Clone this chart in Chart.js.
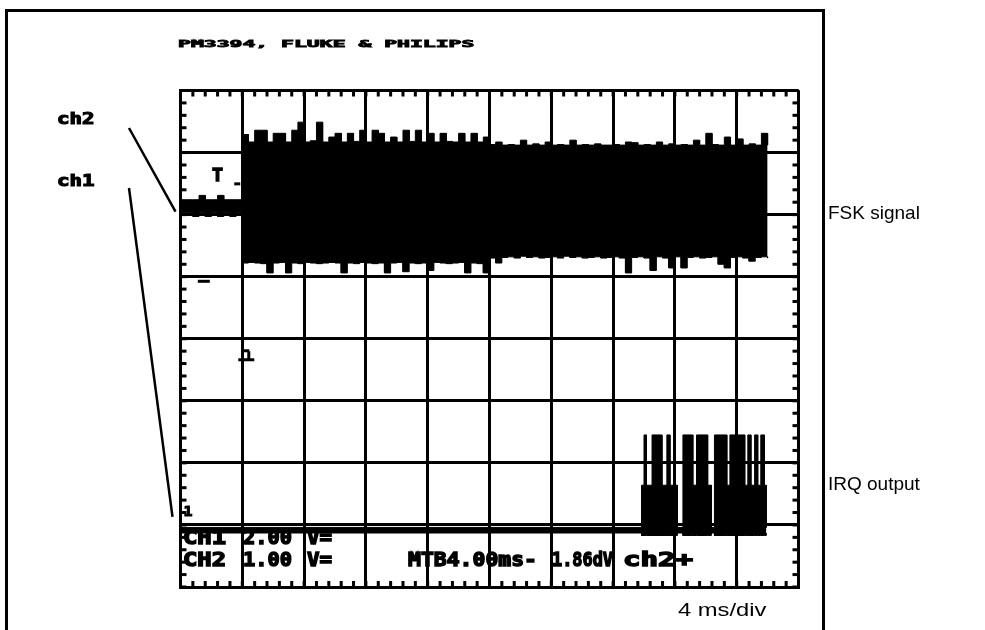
<!DOCTYPE html>
<html>
<head>
<meta charset="utf-8">
<script src="https://cdn.jsdelivr.net/npm/chart.js@4.4.1/dist/chart.umd.min.js"></script>
<style>
	body { margin: 0; background: #ffffff; }
	canvas { display: block; }
</style>
</head>
<body>
<canvas id="scope-canvas" width="985" height="630"></canvas>
<script>
// screen is 10 x 8 divisions, 4 ms/div
const divisionsX = 10;
const divisionsY = 8;

// ch2 (FSK) envelope, one sample every 0.1 div starting at 0
const sampleStep = 0.1;
const ch2Top = [
	6.24, 6.24, 6.24, 6.31, 6.24, 6.24, 6.31, 6.24, 6.24, 6.24,
	7.29, 7.17, 7.36, 7.36, 7.17, 7.31, 7.31, 7.17, 7.36, 7.49,
	7.17, 7.19, 7.49, 7.17, 7.25, 7.31, 7.17, 7.31, 7.18, 7.36,
	7.17, 7.36, 7.31, 7.17, 7.25, 7.17, 7.36, 7.18, 7.36, 7.17,
	7.31, 7.17, 7.31, 7.18, 7.17, 7.31, 7.17, 7.31, 7.17, 7.25,
	7.13, 7.17, 7.12, 7.13, 7.12, 7.20, 7.12, 7.14, 7.12, 7.17,
	7.12, 7.13, 7.12, 7.20, 7.12, 7.13, 7.12, 7.14, 7.12, 7.12,
	7.13, 7.12, 7.17, 7.16, 7.12, 7.13, 7.12, 7.17, 7.12, 7.14,
	7.12, 7.13, 7.12, 7.20, 7.12, 7.31, 7.13, 7.12, 7.25, 7.12,
	7.22, 7.12, 7.14, 7.12, 7.31, 7.12
];
const ch2Bottom = [
	6.03, 6.03, 5.97, 6.03, 5.97, 6.03, 5.97, 6.03, 5.97, 6.03,
	5.22, 5.23, 5.22, 5.21, 5.06, 5.22, 5.23, 5.06, 5.22, 5.21,
	5.23, 5.22, 5.21, 5.22, 5.23, 5.22, 5.06, 5.22, 5.21, 5.23,
	5.22, 5.21, 5.22, 5.06, 5.22, 5.23, 5.08, 5.22, 5.21, 5.22,
	5.10, 5.23, 5.22, 5.21, 5.22, 5.23, 5.06, 5.22, 5.21, 5.06,
	5.30, 5.22, 5.31, 5.32, 5.30, 5.33, 5.31, 5.32, 5.30, 5.31,
	5.32, 5.30, 5.33, 5.31, 5.32, 5.30, 5.31, 5.32, 5.30, 5.31,
	5.32, 5.30, 5.06, 5.31, 5.32, 5.30, 5.10, 5.32, 5.30, 5.14,
	5.32, 5.14, 5.31, 5.32, 5.30, 5.31, 5.32, 5.20, 5.14, 5.31,
	5.32, 5.30, 5.25, 5.31, 5.32, 5.30
];

// ch1 (IRQ output) level changes, x in div
const irqX =      [0,    7.46, 7.50, 7.54, 7.63, 7.79, 7.87, 7.92, 8.04, 8.13, 8.29, 8.35, 8.53, 8.59, 8.64, 8.84, 8.89, 9.13, 9.18, 9.23, 9.29, 9.34, 9.39, 9.45, 9.48];
const irqTop =    [0.96, 1.64, 2.45, 1.64, 2.45, 1.64, 2.45, 1.64, 0.96, 2.45, 1.64, 2.45, 1.64, 0.96, 2.45, 1.64, 2.45, 1.64, 2.45, 1.64, 2.45, 1.64, 2.45, 1.64, 0.96];
const irqBottom = [0.87, 0.83, 0.83, 0.83, 0.83, 0.83, 0.83, 0.83, 0.87, 0.83, 0.83, 0.83, 0.83, 0.87, 0.83, 0.83, 0.83, 0.83, 0.83, 0.83, 0.83, 0.83, 0.83, 0.83, 0.87];

// readout lines of the scope
const titleText = "PM3394, FLUKE & PHILIPS";
const ch1Readout = ["CH1", "2.00", "V="];
const ch2Readout = ["CH2", "1.00", "V=", "MTB4.00ms-", "1.86dV", "ch2+"];
const readoutCols = [183, 243, 307, 408, 552, 623];
const readoutWidths = [43, 49, 25, 129, 61, 70];

const sideLabels = ["FSK signal", "IRQ output"];
const timebaseLabel = "4 ms/div";

// each level holds until the next sample: emit the corner points so
// the line and the fill between two traces follow the same steps
function stepPoints(xs, ys)
{
	let points = [];
	for(let i = 0; i < ys.length; i++)
	{
		points.push({x : xs[i], y : ys[i]});
		if(i + 1 < ys.length)
			points.push({x : xs[i + 1], y : ys[i]});
	}
	return points;
}

let ch2X = [];
for(let i = 0; i < ch2Top.length; i++)
	ch2X.push(Math.round(i * sampleStep * 100) / 100);

// wide blocky glyphs like the scope's own character generator
function scopeText(ctx, str, x, top, capH, pitch, width)
{
	const size = capH / 0.73;
	ctx.save();
	ctx.font = "bold " + size + "px 'DejaVu Sans Mono'";
	let sx = pitch / (0.602 * size);
	if(width)
		sx = width / ctx.measureText(str).width;
	ctx.textBaseline = "alphabetic";
	ctx.textAlign = "left";
	ctx.fillStyle = "#000";
	ctx.strokeStyle = "#000";
	ctx.translate(x, top + capH);
	ctx.scale(sx, 1);
	ctx.lineWidth = Math.max(0.8, capH / 10);
	ctx.fillText(str, 0, 0);
	ctx.strokeText(str, 0, 0);
	ctx.restore();
}

const scopeDecor =
{
	id : "scopeDecor",
	beforeDraw(chart)
	{
		const ctx = chart.ctx;
		ctx.save();
		ctx.fillStyle = "#fff";
		ctx.fillRect(0, 0, chart.width, chart.height);
		// outer frame (open at the bottom)
		ctx.fillStyle = "#000";
		ctx.fillRect(5, 9, 3, 630);
		ctx.fillRect(5, 9, 820, 3);
		ctx.fillRect(822, 9, 3, 630);
		ctx.restore();
	},
	beforeDatasetsDraw(chart)
	{
		const ctx = chart.ctx;
		// ch1 readout, partly overwritten by the ch1 trace
		for(let i = 0; i < ch1Readout.length; i++)
			scopeText(ctx, ch1Readout[i], readoutCols[i], 530, 14, 13, readoutWidths[i]);
	},
	afterDraw(chart)
	{
		const ctx = chart.ctx;
		const area = chart.chartArea;
		const xs = chart.scales.x;
		const ys = chart.scales.y;
		ctx.save();
		ctx.fillStyle = "#000";

		// minor ticks on the border, 5 per division
		for(let i = 0; i <= divisionsX * 5; i++)
		{
			const px = xs.getPixelForValue(i / 5);
			ctx.fillRect(px - 1.5, area.top, 3, 6);
			ctx.fillRect(px - 1.5, area.bottom - 6, 3, 6);
		}
		for(let i = 0; i <= divisionsY * 5; i++)
		{
			const py = ys.getPixelForValue(i / 5);
			ctx.fillRect(area.left, py - 1.5, 6, 3);
			ctx.fillRect(area.right - 6, py - 1.5, 6, 3);
		}

		// trigger level "T" and its marker
		scopeText(ctx, "T", xs.getPixelForValue(0.51), ys.getPixelForValue(6.75), 13, 11);
		ctx.fillRect(xs.getPixelForValue(0.87), ys.getPixelForValue(6.52), 6, 3);
		// ch1 position marker
		ctx.fillRect(xs.getPixelForValue(0.28), ys.getPixelForValue(4.95), 12, 3);
		// trigger point marker
		const tx = xs.getPixelForValue(1.0);
		const ty = ys.getPixelForValue(3.75);
		ctx.fillRect(tx - 4, ty + 4, 16, 3);
		ctx.fillRect(tx + 5, ty - 3, 3, 8);
		ctx.fillRect(tx + 1, ty - 5, 6, 3);
		// ch1 ground marker
		scopeText(ctx, "1", area.left + 3, ys.getPixelForValue(1.3), 10, 9);

		// readout below the traces
		for(let i = 0; i < ch2Readout.length; i++)
			scopeText(ctx, ch2Readout[i], readoutCols[i], 552, 14, 13, readoutWidths[i]);

		// header
		scopeText(ctx, titleText, 178, 40, 7, 12.9);

		// channel names and their leader lines
		scopeText(ctx, "ch2", 57, 113, 11, 12.5);
		scopeText(ctx, "ch1", 57, 175, 11, 12.5);
		ctx.strokeStyle = "#000";
		ctx.lineWidth = 2.5;
		ctx.beginPath();
		ctx.moveTo(129, 128);
		ctx.lineTo(area.left - 5, ys.getPixelForValue(6.0) - 3);
		ctx.moveTo(129, 188);
		ctx.lineTo(area.left - 8, ys.getPixelForValue(1.13));
		ctx.stroke();

		// plain labels outside the screen
		ctx.font = "19px 'Liberation Sans', Arial, sans-serif";
		ctx.textBaseline = "alphabetic";
		ctx.fillText(sideLabels[0], 828, 219);
		ctx.fillText(sideLabels[1], 828, 490);
		ctx.translate(678, 616);
		ctx.scale(1.25, 1);
		ctx.fillText(timebaseLabel, 0, 0);
		ctx.restore();
	}
};

const traceStyle = { borderColor : "#000", borderWidth : 1, backgroundColor : "#000", pointRadius : 0, tension : 0 };

const scopeChart = new Chart(document.getElementById("scope-canvas").getContext("2d"),
{
	type : "line",
	data :
	{
		datasets :
		[
			Object.assign({ label : "ch2 low", data : stepPoints(ch2X, ch2Bottom), fill : false }, traceStyle),
			Object.assign({ label : "ch2 high", data : stepPoints(ch2X, ch2Top), fill : "-1" }, traceStyle),
			Object.assign({ label : "ch1 low", data : stepPoints(irqX, irqBottom), fill : false }, traceStyle),
			Object.assign({ label : "ch1 high", data : stepPoints(irqX, irqTop), fill : "-1" }, traceStyle)
		]
	},
	options :
	{
		responsive : false,
		animation : false,
		events : [],
		layout : { padding : { left : 180.5, top : 90.5, right : 186.5, bottom : 43 } },
		plugins :
		{
			legend : { display : false },
			tooltip : { enabled : false }
		},
		scales :
		{
			x :
			{
				type : "linear",
				min : 0,
				max : divisionsX,
				ticks : { display : false, stepSize : 1 },
				grid : { color : "#000", lineWidth : 3, drawTicks : false },
				border : { display : true, color : "#000", width : 3 }
			},
			y :
			{
				type : "linear",
				min : 0,
				max : divisionsY,
				ticks : { display : false, stepSize : 1 },
				grid : { color : "#000", lineWidth : 3, drawTicks : false },
				border : { display : true, color : "#000", width : 3 }
			}
		}
	},
	plugins : [scopeDecor]
});
</script>
</body>
</html>
